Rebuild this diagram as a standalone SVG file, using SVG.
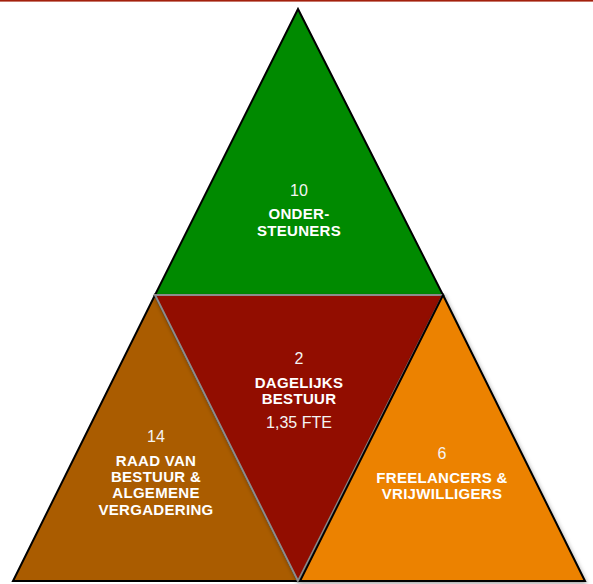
<svg xmlns="http://www.w3.org/2000/svg" width="593" height="584" viewBox="0 0 593 584">
  <style>
    .tri { stroke: #000; stroke-width: 2; stroke-linejoin: miter; }
    .num { font-family: "Liberation Sans", Arial, sans-serif; font-size: 16px; fill: #f4f4f4; text-anchor: middle; }
    .lbl { font-family: "Liberation Sans", Arial, sans-serif; font-size: 15px; font-weight: bold; fill: #fff; text-anchor: middle; letter-spacing: 0.3px; }
  </style>
  <defs>
    <filter id="shadow" x="-10%" y="-10%" width="120%" height="120%">
      <feDropShadow dx="1" dy="2" stdDeviation="2" flood-color="#000" flood-opacity="0.35"/>
    </filter>
  </defs>
  <rect x="0" y="0" width="593" height="1.6" fill="#a3200c"/>
  <g id="ondersteuners">
    <polygon class="tri" points="298,9 443,295 155,295" fill="#008a00"/>
    <text class="num" x="299" y="196">10</text>
    <text class="lbl" x="299" y="219">ONDER-</text>
    <text class="lbl" x="299" y="236">STEUNERS</text>
  </g>
  <g id="raad">
    <polygon class="tri" points="155,295 298,581 13,581" fill="#aa5c00"/>
    <text class="num" x="156" y="442">14</text>
    <text class="lbl" x="156" y="466">RAAD VAN</text>
    <text class="lbl" x="156" y="482">BESTUUR &amp;</text>
    <text class="lbl" x="156" y="498">ALGEMENE</text>
    <text class="lbl" x="156" y="515">VERGADERING</text>
  </g>
  <g id="bestuur">
    <polygon points="155,295 443,295 298,581" fill="#921000" stroke="#8c8c8c" stroke-width="2" filter="url(#shadow)"/>
    <text class="num" x="299" y="364">2</text>
    <text class="lbl" x="299" y="388">DAGELIJKS</text>
    <text class="lbl" x="299" y="404">BESTUUR</text>
    <text class="num" x="299" y="428">1,35 FTE</text>
  </g>
  <g id="freelancers">
    <polygon class="tri" points="443,295 585,581 300,581" fill="#ec8206" filter="url(#shadow)"/>
    <text class="num" x="442" y="459">6</text>
    <text class="lbl" x="442" y="483">FREELANCERS &amp;</text>
    <text class="lbl" x="442" y="499">VRIJWILLIGERS</text>
  </g>
  <g id="connectors"></g>
</svg>
